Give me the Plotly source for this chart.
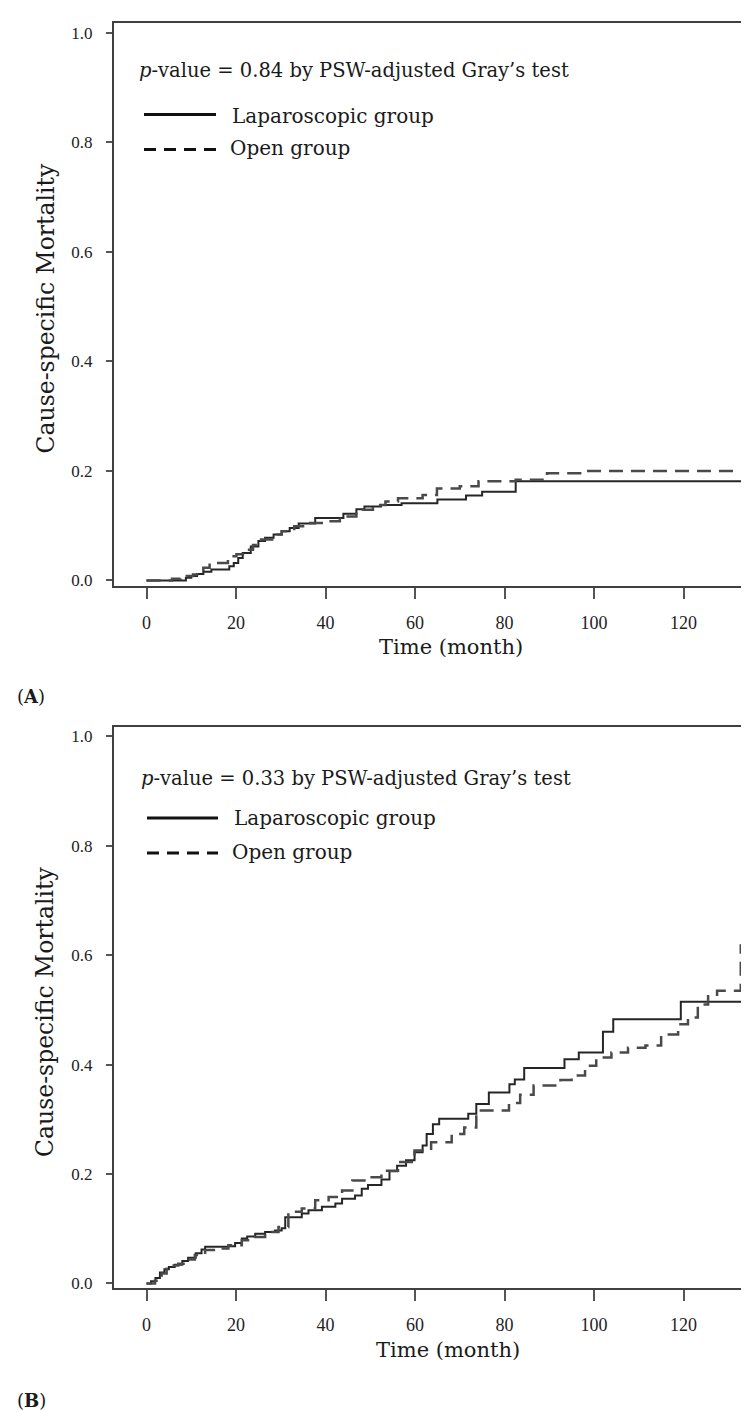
import plotly.graph_objects as go

W, H = 749, 1410
FONT = "DejaVu Serif"
TICK_FONT = "Liberation Serif"

# ---------------- data ----------------
x_ticks = [0, 20, 40, 60, 80, 100, 120]
y_ticks = [0.0, 0.2, 0.4, 0.6, 0.8, 1.0]
y_tick_labels = ["0.0", "0.2", "0.4", "0.6", "0.8", "1.0"]

# Panel A
a_lap_t = [0, 8.8, 10, 11.3, 12.7, 14.5, 18.5, 19.5, 20.5, 21.5, 23.3, 25, 26.5, 28.4,
           30.2, 32, 34, 37.7, 44, 46.9, 48.7, 52.4, 57, 65, 71.4, 75, 82.5, 133]
a_lap_y = [0, 0.005, 0.008, 0.012, 0.016, 0.02, 0.026, 0.032, 0.041, 0.05, 0.062, 0.072,
           0.078, 0.084, 0.09, 0.096, 0.104, 0.114, 0.122, 0.13, 0.135, 0.138, 0.141,
           0.148, 0.155, 0.162, 0.181, 0.181]
a_open_t = [0, 5.7, 7.6, 9.0, 10.4, 11.3, 12.7, 14.1, 18.2, 20.1, 21.9, 23.8, 25.6, 28.4,
            30.2, 33.0, 35.8, 39.5, 43.2, 46.9, 50.6, 53.4, 56.2, 61.7, 64.9, 70.0, 74.2,
            82.5, 89.5, 96.9, 132.5]
a_open_y = [0, 0.003, 0.005, 0.008, 0.011, 0.015, 0.023, 0.032, 0.044, 0.048, 0.056, 0.065,
            0.075, 0.084, 0.09, 0.099, 0.105, 0.108, 0.117, 0.129, 0.138, 0.144, 0.150,
            0.156, 0.168, 0.172, 0.181, 0.184, 0.196, 0.2, 0.2]

# Panel B
b_lap_t = [0, 1, 2, 3, 4, 5, 6.3, 8, 9.3, 11, 12.3, 13.1, 18.3, 19.8, 21.3, 22.5, 24.3,
           26.5, 28.7, 30.2, 31, 34.7, 36.2, 39.2, 42.2, 43.7, 46.6, 48.1, 49.5, 52.5,
           54.3, 56, 58, 59.9, 61.7, 62.6, 64, 65.4, 71.9, 73.7, 76.5, 81.1, 82.3, 84.4,
           93.4, 96.6, 102, 104.3, 119.4, 133]
b_lap_y = [0, 0.004, 0.01, 0.02, 0.026, 0.03, 0.034, 0.041, 0.047, 0.055, 0.062, 0.067,
           0.068, 0.074, 0.082, 0.086, 0.091, 0.094, 0.097, 0.101, 0.121, 0.128, 0.134,
           0.14, 0.146, 0.155, 0.161, 0.173, 0.18, 0.19, 0.205, 0.215, 0.225, 0.24, 0.252,
           0.273, 0.291, 0.301, 0.31, 0.328, 0.349, 0.364, 0.373, 0.394, 0.41, 0.422,
           0.46, 0.483, 0.515, 0.515]
b_open_t = [0, 1.9, 3.4, 4.5, 5.6, 7.1, 8.6, 10.8, 13.1, 16, 18.3, 21.3, 23.5, 26.5, 29.5,
            31.7, 34.7, 37.7, 40.7, 43.7, 46, 49, 52.5, 56.2, 59.9, 63.6, 68.2, 71, 73.7,
            81, 83.5, 86.5, 92.5, 95, 98, 100.5, 103.9, 107.6, 111.5, 115, 118.8, 121,
            123.2, 125.5, 127.5, 132.8]
b_open_y = [0, 0.005, 0.018, 0.027, 0.033, 0.036, 0.044, 0.052, 0.061, 0.064, 0.07, 0.079,
            0.085, 0.094, 0.103, 0.131, 0.137, 0.152, 0.158, 0.17, 0.188, 0.194, 0.206,
            0.222, 0.243, 0.258, 0.273, 0.285, 0.316, 0.33, 0.345, 0.362, 0.372, 0.38,
            0.398, 0.413, 0.422, 0.431, 0.435, 0.455, 0.474, 0.486, 0.51, 0.525, 0.535,
            0.62]

p_texts = ["<i>p</i>-value = 0.84 by PSW-adjusted Gray\u2019s test",
           "<i>p</i>-value = 0.33 by PSW-adjusted Gray\u2019s test"]
group_names = ["Laparoscopic group", "Open group"]
panel_labels = ["(<b>A</b>)", "(<b>B</b>)"]


def fx(px):
    return px / W


def fy(py):
    return 1 - py / H


SOLID_C = "#262626"
DASH_C = "#4a4a4a"
CURVE_DASH = "14px,8px"

fig = go.Figure()
fig.add_trace(go.Scatter(x=a_lap_t, y=a_lap_y, mode="lines", line_shape="hv",
                         line=dict(color=SOLID_C, width=2), xaxis="x", yaxis="y",
                         showlegend=False))
fig.add_trace(go.Scatter(x=a_open_t, y=a_open_y, mode="lines", line_shape="hv",
                         line=dict(color=DASH_C, width=2.5, dash=CURVE_DASH),
                         xaxis="x", yaxis="y", showlegend=False))
fig.add_trace(go.Scatter(x=b_lap_t, y=b_lap_y, mode="lines", line_shape="hv",
                         line=dict(color=SOLID_C, width=2), xaxis="x2", yaxis="y2",
                         showlegend=False))
fig.add_trace(go.Scatter(x=b_open_t, y=b_open_y, mode="lines", line_shape="hv",
                         line=dict(color=DASH_C, width=2.5, dash=CURVE_DASH),
                         xaxis="x2", yaxis="y2", showlegend=False))

# panel geometry (pixels)
left_px = 106
x0_px, px_per_month = 138.5, 4.475
x_range = [(left_px - x0_px) / px_per_month, (W - x0_px) / px_per_month]

panels = [
    dict(top=15, bottom=580, zero=574.5, one=25),
    dict(top=722, bottom=1285, zero=1280, one=731),
]

common_x = dict(range=x_range, showline=True, linecolor="#404040", linewidth=2,
                mirror=True, ticks="outside", ticklen=11, tickwidth=1.5,
                tickcolor="#555555", tickvals=x_ticks, showgrid=False, zeroline=False,
                tickfont=dict(family=TICK_FONT, size=18, color="#222222"),
                ticklabelstandoff=8, domain=[fx(left_px), 1])


def y_axis(p):
    per = p["zero"] - p["one"]
    lo = -(p["bottom"] - p["zero"]) / per
    hi = 1 + (p["one"] - p["top"]) / per
    return dict(range=[lo, hi], domain=[fy(p["bottom"]), fy(p["top"])], showline=True,
                linecolor="#404040", linewidth=2, mirror=False, ticks="outside",
                ticklen=6, tickwidth=1.5, tickcolor="#555555", tickvals=y_ticks,
                ticktext=y_tick_labels, showgrid=False, zeroline=False,
                tickfont=dict(family=TICK_FONT, size=17, color="#222222"),
                ticklabelstandoff=10)


fig.update_layout(
    width=W, height=H, margin=dict(l=0, r=0, t=0, b=0),
    paper_bgcolor="white", plot_bgcolor="white", showlegend=False,
    xaxis=dict(common_x, anchor="y"),
    yaxis=dict(y_axis(panels[0]), anchor="x"),
    xaxis2=dict(common_x, anchor="y2"),
    yaxis2=dict(y_axis(panels[1]), anchor="x2"),
)

txt = dict(family=FONT, color="#1a1a1a")
annotations = []
shapes = []
layout_rows = [
    dict(p=62.5, lap_line=107, lap_txt=108, open_line=142, open_txt=141, xt=641,
         yt=302, lab=691, line_x=(136, 208), txt_x=222, p_x=129, xt_x=443),
    dict(p=773, lap_line=813, lap_txt=813, open_line=848, open_txt=847, xt=1347,
         yt=1008, lab=1397, line_x=(139, 210), txt_x=224, p_x=131, xt_x=440),
]
for i, r in enumerate(layout_rows):
    annotations.append(dict(text=p_texts[i], x=fx(r["p_x"]), y=fy(r["p"]), xref="paper",
                            yref="paper", xanchor="left", yanchor="middle",
                            showarrow=False, font=dict(txt, size=19.5)))
    annotations.append(dict(text=group_names[0], x=fx(r["txt_x"]), y=fy(r["lap_txt"]),
                            xref="paper", yref="paper", xanchor="left",
                            yanchor="middle", showarrow=False, font=dict(txt, size=20)))
    annotations.append(dict(text=group_names[1], x=fx(r["txt_x"] - 2),
                            y=fy(r["open_txt"]), xref="paper", yref="paper",
                            xanchor="left", yanchor="middle", showarrow=False,
                            font=dict(txt, size=20)))
    annotations.append(dict(text="Time (month)", x=fx(r["xt_x"]), y=fy(r["xt"]),
                            xref="paper", yref="paper", xanchor="center",
                            yanchor="middle", showarrow=False, font=dict(txt, size=21)))
    annotations.append(dict(text="Cause-specific Mortality", x=fx(37.5), y=fy(r["yt"]),
                            xref="paper", yref="paper", xanchor="center",
                            yanchor="middle", textangle=-90, showarrow=False,
                            font=dict(txt, size=23.5)))
    annotations.append(dict(text=panel_labels[i], x=fx(7), y=fy(r["lab"]),
                            xref="paper", yref="paper", xanchor="left",
                            yanchor="middle", showarrow=False, font=dict(txt, size=18)))
    x0, x1 = r["line_x"]
    shapes.append(dict(type="line", xref="paper", yref="paper", x0=fx(x0), x1=fx(x1),
                       y0=fy(r["lap_line"]), y1=fy(r["lap_line"]),
                       line=dict(color="#111111", width=3)))
    shapes.append(dict(type="line", xref="paper", yref="paper", x0=fx(x0), x1=fx(x1),
                       y0=fy(r["open_line"]), y1=fy(r["open_line"]),
                       line=dict(color="#111111", width=3, dash="12px,8px")))

fig.update_layout(annotations=annotations, shapes=shapes)
fig.write_html("out.html")
